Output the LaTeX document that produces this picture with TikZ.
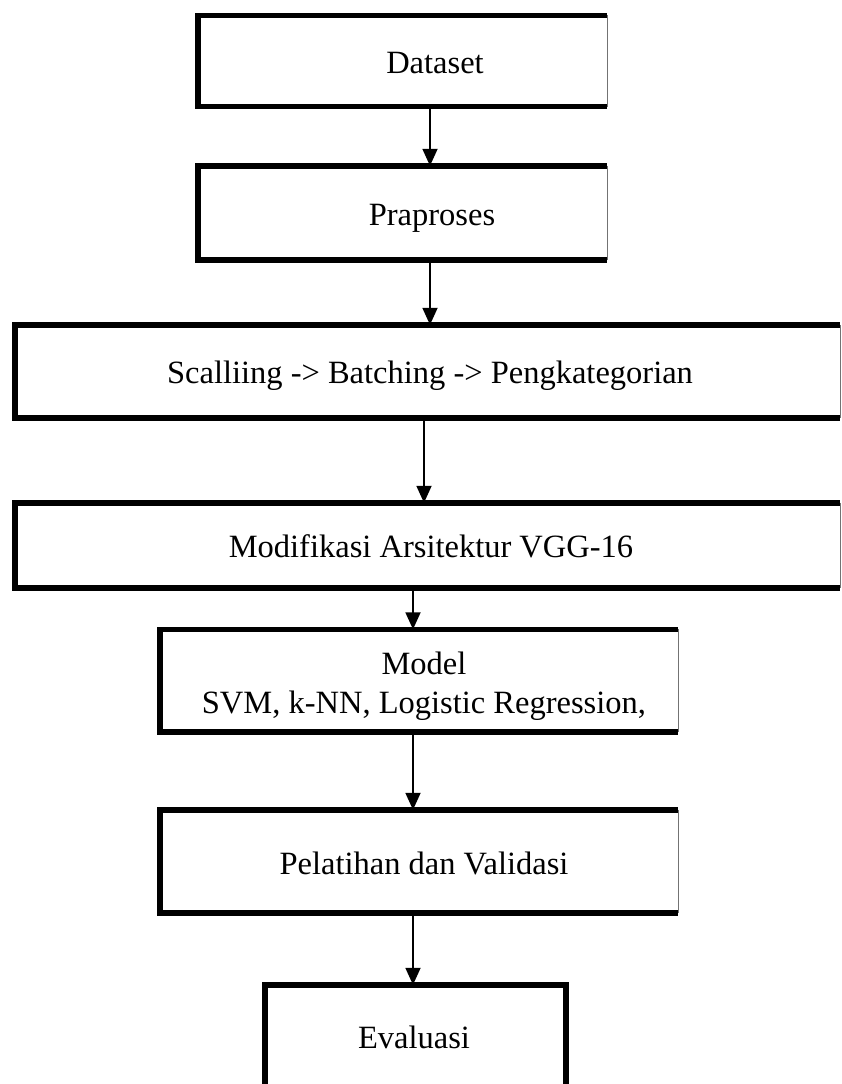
\documentclass[tikz,border=0pt]{standalone}
\usepackage{fontspec}
\setmainfont{Liberation Serif}
\usetikzlibrary{arrows.meta}

\tikzset{
  stagebox/.style={rectangle, draw=none, inner sep=0pt},
  label/.style={anchor=base, inner sep=0pt, align=center,
                font=\fontsize{32.5}{39}\selectfont},
  heavy/.style={line width=5.5pt, line join=miter},
  rim/.style={line width=1pt, black!55},
  flow/.style={line width=1.8pt, -{Triangle[width=15pt,length=17pt]}}
}

% thick left, top and bottom sides, light right side
\newcommand\stageframe[1]{%
  \draw[heavy] (#1.north east) -- (#1.north west) -- (#1.south west) -- (#1.south east);
  \draw[rim] (#1.north east) -- (#1.south east);}

\begin{document}
\begin{tikzpicture}[x=1pt,y=-1pt]
  \useasboundingbox (0,0) rectangle (842,1084);
  \clip (0,0) rectangle (842,1084);
  \fill[white] (0,0) rectangle (842,1084);

  % stage boxes
  \node[stagebox, minimum width=409pt, minimum height=91pt]    (b1) at (402.5,61)    {};
  \node[stagebox, minimum width=409pt, minimum height=94pt]    (b2) at (402.5,213)   {};
  \node[stagebox, minimum width=825pt, minimum height=93pt]    (b3) at (427.5,371.5) {};
  \node[stagebox, minimum width=825pt, minimum height=85pt]    (b4) at (427.5,545.5) {};
  \node[stagebox, minimum width=518pt, minimum height=102.5pt] (b5) at (419,680.75)  {};
  \node[stagebox, minimum width=518pt, minimum height=103pt]   (b6) at (419,861.5)   {};
  \node[stagebox, minimum width=301pt, minimum height=110pt]   (b7) at (415.5,1040)  {};

  \stageframe{b1}
  \stageframe{b2}
  \stageframe{b3}
  \stageframe{b4}
  \stageframe{b5}
  \stageframe{b6}
  \draw[heavy] (b7.south west) -- (b7.north west) -- (b7.north east) -- (b7.south east);

  % texts (a two-line label sits on the baseline of its last line)
  \node[label] (t1) at (435,73)    {Dataset};
  \node[label] (t2) at (432,225)   {Praproses};
  \node[label] (t3) at (430,383.5) {Scalliing -> Batching -> Pengkategorian};
  \node[label] (t4) at (431,557.5) {Modifikasi Arsitektur VGG-16};
  \node[label] (t5) at (424,713)   {Model\\SVM, k-NN, Logistic Regression,};
  \node[label] (t6) at (424,874)   {Pelatihan dan Validasi};
  \node[label] (t7) at (414,1048)  {Evaluasi};

  % arrow columns
  \coordinate (c1) at (430,0);
  \coordinate (c2) at (430,0);
  \coordinate (c3) at (424,0);
  \coordinate (c4) at (413,0);
  \coordinate (c5) at (413,0);
  \coordinate (c6) at (413,0);

  \draw[flow] (b1.south -| c1) -- (b2.north -| c1);
  \draw[flow] (b2.south -| c2) -- (b3.north -| c2);
  \draw[flow] (b3.south -| c3) -- (b4.north -| c3);
  \draw[flow] (b4.south -| c4) -- (b5.north -| c4);
  \draw[flow] (b5.south -| c5) -- (b6.north -| c5);
  \draw[flow] (b6.south -| c6) -- (b7.north -| c6);
\end{tikzpicture}
\end{document}
